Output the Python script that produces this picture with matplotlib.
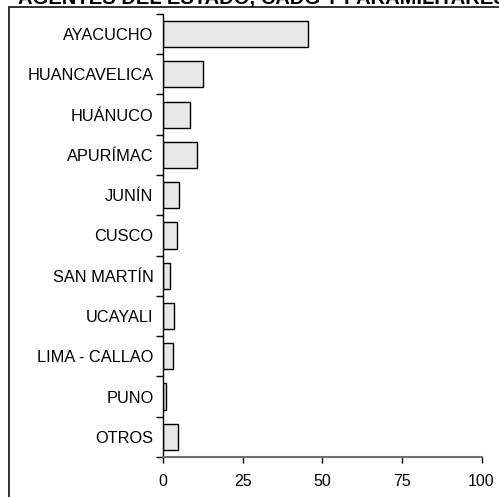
import numpy as np
import matplotlib.pyplot as plt
from matplotlib.patches import Rectangle

plt.rcParams['font.family'] = ['Liberation Sans', 'DejaVu Sans']

# categories (top to bottom) and values
regiones = ['AYACUCHO', 'HUANCAVELICA', 'HUÁNUCO', 'APURÍMAC', 'JUNÍN', 'CUSCO',
            'SAN MARTÍN', 'UCAYALI', 'LIMA - CALLAO', 'PUNO', 'OTROS']
valores = [45.6, 12.6, 8.3, 10.6, 4.9, 4.5, 2.3, 3.3, 3.2, 1.0, 4.8]
xticks = [0, 25, 50, 75, 100]
titulo = 'AGENTES DEL ESTADO, CADG Y PARAMILITARES'

fig = plt.figure(figsize=(4.99, 4.97), dpi=100)
ax = fig.add_axes([0.327, 0.0805, 0.638, 0.8915])

y = np.arange(len(regiones))
ax.barh(y, valores, height=0.65, color='#e8e8e8', edgecolor='black', linewidth=1.0)

ax.set_xlim(0, 100)
ax.set_ylim(len(regiones) - 0.5, -0.5)
ax.set_xticks(xticks)
ax.set_xticklabels([str(v) for v in xticks], fontsize=11.5)

# labels at bar centres, ticks at category boundaries
ax.set_yticks(y)
ax.set_yticklabels(regiones, fontsize=11.8)
ax.tick_params(axis='y', which='major', length=0, pad=7)
ax.set_yticks(np.arange(len(regiones) + 1) - 0.5, minor=True)
ax.tick_params(axis='y', which='minor', length=5, width=1, direction='out')
ax.tick_params(axis='x', length=4, width=1, direction='out', colors='black', pad=8)

for s in ['top', 'right']:
    ax.spines[s].set_visible(False)
ax.spines['left'].set_linewidth(1.0)
ax.spines['bottom'].set_color('#707070')
ax.spines['bottom'].set_linewidth(1.5)

# outer frame, running off the right and bottom edges
frame = Rectangle((9 / 499, -0.05), 1.1, 1 - 7 / 497 + 0.05, transform=fig.transFigure,
                  fill=False, edgecolor='#222222', linewidth=1.3, clip_on=False)
fig.add_artist(frame)

# title is cut by the top edge in the original
fig.text(18 / 499, 1 - 4 / 497, titulo, fontsize=14.5, fontweight='bold',
         ha='left', va='baseline')

fig.savefig('out.png', dpi=100)
